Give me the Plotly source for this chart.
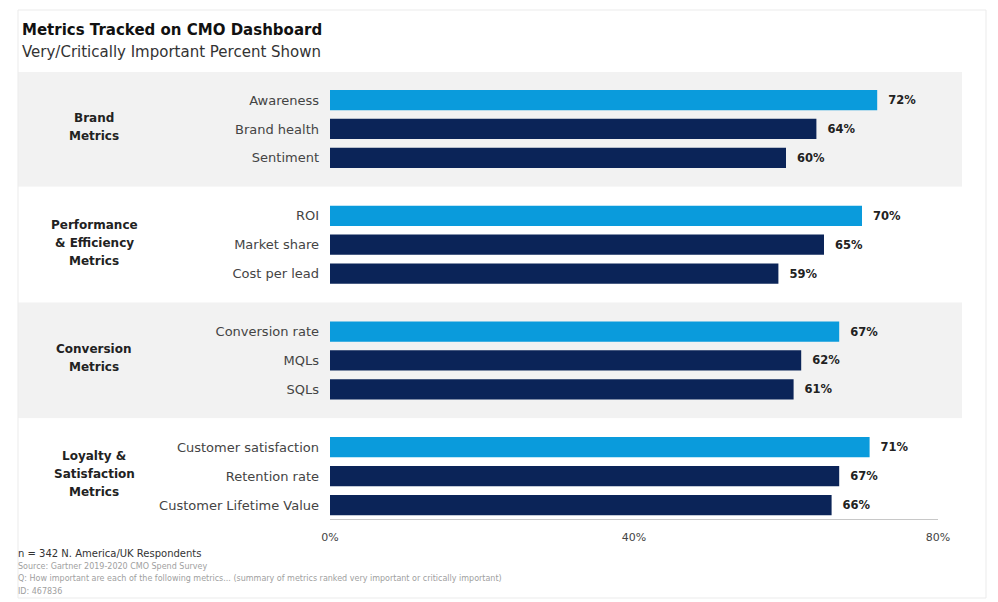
import plotly.graph_objects as go

# ---- data ----
groups = [["Brand", "Metrics"],
          ["Performance", "& Efficiency", "Metrics"],
          ["Conversion", "Metrics"],
          ["Loyalty &", "Satisfaction", "Metrics"]]
metrics = [
    ["Awareness", "Brand health", "Sentiment"],
    ["ROI", "Market share", "Cost per lead"],
    ["Conversion rate", "MQLs", "SQLs"],
    ["Customer satisfaction", "Retention rate", "Customer Lifetime Value"],
]
values = [
    [72, 64, 60],
    [70, 65, 59],
    [67, 62, 61],
    [71, 67, 66],
]
x_ticks = [0, 40, 80]
x_tick_labels = ["0%", "40%", "80%"]

LIGHT = "#0a9bdc"
DARK = "#0b2458"
FONT = "DejaVu Sans, Verdana, sans-serif"

# positions: groups separated by an empty row
ys, labels, vals, colors = [], [], [], []
for gi, (ms, vs) in enumerate(zip(metrics, values)):
    for mi, (m, v) in enumerate(zip(ms, vs)):
        ys.append(gi * 4 + mi)
        labels.append(m)
        vals.append(v)
        colors.append(LIGHT if mi == 0 else DARK)

fig = go.Figure()
fig.add_trace(go.Bar(
    x=vals, y=ys, orientation="h",
    marker=dict(color=colors, line=dict(width=0)),
    width=0.7,
    text=[f"<b>\u00a0\u00a0{v}%</b>" for v in vals],
    textposition="outside",
    textfont=dict(size=11.5, color="#222", family=FONT),
    cliponaxis=False,
    hoverinfo="skip",
))

# page-pixel helpers (plot area spans page x 330-938, y 72-519)
def px_x(px):
    return (px - 330) / 608

def px_y(py):
    return (519 - py) / 447

# background bands
shapes = []
for gi in range(len(groups)):
    y0 = gi * 4 - 1
    y1 = gi * 4 + 3 if gi < len(groups) - 1 else 14.48
    shapes.append(dict(type="rect", xref="paper", yref="y",
                       x0=px_x(18), x1=px_x(962), y0=y0, y1=y1,
                       fillcolor="#f2f2f2" if gi % 2 == 0 else "#ffffff",
                       line=dict(width=0), layer="below"))
# faint card border
shapes.append(dict(type="rect", xref="paper", yref="paper",
                   x0=px_x(18), x1=px_x(986), y0=px_y(598), y1=px_y(10),
                   line=dict(color="#ebebeb", width=1), fillcolor="rgba(0,0,0,0)",
                   layer="below"))

annotations = []
row_px = 447 / 15.45
for gi, g in enumerate(groups):
    center_py = 72 + (gi * 4 + 1 + 0.97) * row_px - 2
    n = len(g)
    for li, line in enumerate(g):
        py = center_py + (li - (n - 1) / 2) * 18
        annotations.append(dict(
            x=px_x(94), xref="paper", y=px_y(py), yref="paper",
            text=f"<b>{line}</b>", showarrow=False, xanchor="center", yanchor="middle",
            font=dict(size=12, color="#222", family=FONT)))

annotations += [
    dict(x=px_x(20), y=px_y(30), xref="paper", yref="paper", xanchor="left", yanchor="middle",
         text="<b>Metrics Tracked on CMO Dashboard</b>", showarrow=False,
         font=dict(size=15, color="#111", family=FONT)),
    dict(x=px_x(20), y=px_y(52), xref="paper", yref="paper", xanchor="left", yanchor="middle",
         text="Very/Critically Important Percent Shown", showarrow=False,
         font=dict(size=15, color="#333", family=FONT)),
    dict(x=px_x(16), y=px_y(553), xref="paper", yref="paper", xanchor="left", yanchor="middle",
         text="n = 342 N. America/UK Respondents", showarrow=False,
         font=dict(size=10, color="#333", family=FONT)),
    dict(x=px_x(16), y=px_y(566), xref="paper", yref="paper", xanchor="left", yanchor="middle",
         text="Source: Gartner 2019-2020 CMO Spend Survey", showarrow=False,
         font=dict(size=8, color="#a0a0a0", family=FONT)),
    dict(x=px_x(16), y=px_y(578), xref="paper", yref="paper", xanchor="left", yanchor="middle",
         text="Q: How important are each of the following metrics... (summary of metrics ranked very important or critically important)",
         showarrow=False, font=dict(size=8, color="#a0a0a0", family=FONT)),
    dict(x=px_x(16), y=px_y(591), xref="paper", yref="paper", xanchor="left", yanchor="middle",
         text="ID: 467836", showarrow=False, font=dict(size=8, color="#a0a0a0", family=FONT)),
]

fig.update_layout(
    width=990, height=594,
    margin=dict(l=322, r=60, t=64, b=83),
    paper_bgcolor="white", plot_bgcolor="rgba(0,0,0,0)",
    showlegend=False,
    shapes=shapes, annotations=annotations,
    xaxis=dict(range=[0, 80], tickvals=x_ticks, ticktext=x_tick_labels,
               showgrid=False, zeroline=False, showline=True, linecolor="#c8c8c8",
               linewidth=1, ticks="", ticklabelstandoff=8,
               tickfont=dict(size=11, color="#444", family=FONT)),
    yaxis=dict(range=[14.48, -0.97], tickvals=ys, ticktext=labels,
               showgrid=False, zeroline=False, showline=False, ticks="",
               ticklabelstandoff=10,
               tickfont=dict(size=13, color="#444", family=FONT)),
)

fig.write_html("out.html")
